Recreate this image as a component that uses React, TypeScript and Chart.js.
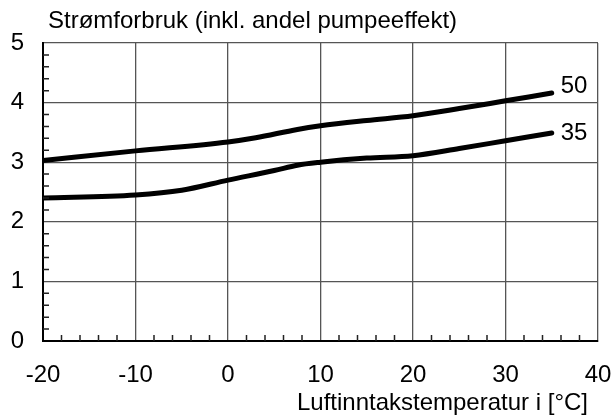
import React, { useEffect, useRef } from "react";
import { Chart, registerables } from "chart.js";

Chart.register(...registerables);

const TITLE = "Strømforbruk (inkl. andel pumpeeffekt)";
const X_TITLE = "Luftinntakstemperatur i [°C]";

const temps50 = [-20, -10, 0, 3, 7.5, 10, 15, 20, 25, 30, 35];
const values50 = [3.03, 3.19, 3.34, 3.41, 3.55, 3.61, 3.7, 3.78, 3.9, 4.03, 4.16];

const temps35 = [-20, -10, -5, 0, 5, 7.5, 10, 15, 20, 25, 30, 35];
const values35 = [2.4, 2.45, 2.53, 2.7, 2.86, 2.95, 3.0, 3.07, 3.11, 3.23, 3.36, 3.49];

const seriesLabels = ["50", "35"];
const labelDy = [-7, 0];

const X_MIN = -20;
const X_MAX = 40;
const X_STEP = 10;
const X_MINOR = 2;
const Y_MIN = 0;
const Y_MAX = 5;
const Y_STEP = 1;
const Y_MINOR = 0.2;

const FONT = "'Liberation Sans', Arial, Helvetica, sans-serif";

const extrasPlugin = {
  id: "extras",
  afterDraw(chart: any) {
    const { ctx, chartArea } = chart;
    const xs = chart.scales.x;
    const ys = chart.scales.y;
    ctx.save();
    // minor ticks
    ctx.strokeStyle = "#222";
    ctx.lineWidth = 1.5;
    ctx.beginPath();
    for (let v = Y_MIN + Y_MINOR; v < Y_MAX - 1e-9; v += Y_MINOR) {
      const r = Math.round(v * 1000) / 1000;
      if (Math.abs(r / Y_STEP - Math.round(r / Y_STEP)) < 1e-6) continue;
      const py = ys.getPixelForValue(r);
      ctx.moveTo(chartArea.left, py);
      ctx.lineTo(chartArea.left + 6, py);
    }
    for (let v = X_MIN + X_MINOR; v < X_MAX - 1e-9; v += X_MINOR) {
      if (Math.abs(v / X_STEP - Math.round(v / X_STEP)) < 1e-6) continue;
      const px = xs.getPixelForValue(v);
      ctx.moveTo(px, chartArea.bottom);
      ctx.lineTo(px, chartArea.bottom - 6);
    }
    ctx.stroke();

    ctx.fillStyle = "#000";
    ctx.font = `24px ${FONT}`;
    // chart title
    ctx.textAlign = "left";
    ctx.textBaseline = "middle";
    ctx.fillText(TITLE, chartArea.left + 5, 21);
    // x axis title
    ctx.textAlign = "right";
    ctx.fillText(X_TITLE, chartArea.right - 10, chartArea.bottom + 62);
    // series labels
    ctx.textAlign = "left";
    chart.data.datasets.forEach((ds: any, i: number) => {
      const meta = chart.getDatasetMeta(i);
      const pt = meta.data[meta.data.length - 1];
      if (!pt) return;
      ctx.fillText(seriesLabels[i], pt.x + 9, pt.y + labelDy[i]);
    });
    ctx.restore();
  },
};

export default function App() {
  const ref = useRef<HTMLCanvasElement>(null);
  useEffect(() => {
    if (!ref.current) return;
    const mk = (t: number[], v: number[]) => t.map((x, i) => ({ x, y: v[i] }));
    const lineStyle = {
      borderColor: "#000",
      borderWidth: 5,
      pointRadius: 0,
      fill: false,
      cubicInterpolationMode: "monotone" as const,
      borderCapStyle: "round" as const,
      borderJoinStyle: "round" as const,
    };
    const chart = new Chart(ref.current, {
      type: "line",
      data: {
        datasets: [
          { label: seriesLabels[0], data: mk(temps50, values50), ...lineStyle },
          { label: seriesLabels[1], data: mk(temps35, values35), ...lineStyle },
        ],
      },
      options: {
        animation: false,
        responsive: true,
        maintainAspectRatio: false,
        layout: { padding: { top: 43, left: 11, right: 17, bottom: 30 } },
        plugins: { legend: { display: false }, tooltip: { enabled: false }, title: { display: false } },
        scales: {
          x: {
            type: "linear",
            min: X_MIN,
            max: X_MAX,
            ticks: { stepSize: X_STEP, color: "#000", font: { size: 24, family: FONT }, padding: 20, maxRotation: 0 },
            grid: { color: "#555", lineWidth: 1.3, drawTicks: false },
            border: { color: "#000", width: 2 },
            afterFit: (s: any) => {
              s.height = 49;
              s.paddingLeft = 0;
              s.paddingRight = 0;
            },
          },
          y: {
            type: "linear",
            min: Y_MIN,
            max: Y_MAX,
            ticks: { stepSize: Y_STEP, color: "#000", font: { size: 24, family: FONT }, padding: 19 },
            grid: { color: "#555", lineWidth: 1.3, drawTicks: false },
            border: { color: "#000", width: 2 },
            afterFit: (s: any) => {
              s.width = 32;
              s.paddingTop = 0;
              s.paddingBottom = 0;
            },
          },
        },
      },
      plugins: [extrasPlugin],
    });
    return () => chart.destroy();
  }, []);
  return (
    <div style={{ position: "fixed", left: 0, top: 0, width: 615, height: 420, background: "#fff" }}>
      <canvas ref={ref} />
    </div>
  );
}
